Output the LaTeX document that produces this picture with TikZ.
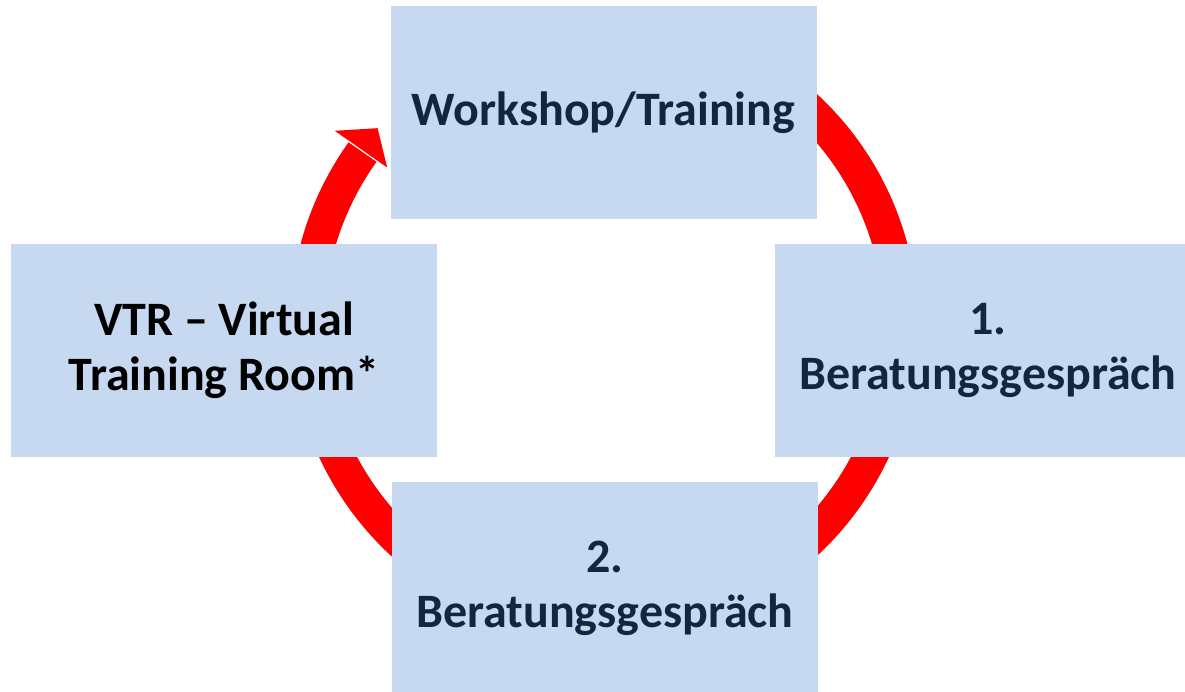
\documentclass[tikz,border=0pt]{standalone}
\usepackage{fontspec}
\setmainfont{Carlito}
\usetikzlibrary{calc}
\definecolor{boxblue}{HTML}{C6D9F1}
\definecolor{navy}{HTML}{12263F}
\definecolor{ringred}{HTML}{FF0000}
\tikzset{
  stepbox/.style={fill=boxblue, draw=none, minimum width=426pt, minimum height=213pt,
    inner sep=0pt, align=center, font=\fontsize{48}{55}\selectfont\bfseries, text=navy},
}
\begin{document}
\begin{tikzpicture}[x=1pt,y=1pt]
\useasboundingbox (0,0) rectangle (1185,691);
\clip (0,0) rectangle (1185,691);
\fill[white] (0,0) rectangle (1185,691);
\coordinate (c) at (604,366);
% ring shadow
\begin{scope}[shift={(1.8pt,-1.8pt)}]
\draw[black!22, line width=34pt] ($(c)+(60:297pt)$) arc[start angle=60, end angle=-215.6, radius=297pt];
\end{scope}
% ring
\draw[ringred, line width=34pt] ($(c)+(60:297pt)$) arc[start angle=60, end angle=-215.6, radius=297pt];
\fill[ringred] ($(c)+(144:268pt)$) -- ($(c)+(144.2:332pt)$) -- ($(c)+(139:300pt)$) -- cycle;
% boxes
\node[stepbox] (top) at (603.5,578.5) {Workshop/Training};
\node[stepbox, text=black] (left) at (224,340.5) {VTR -- Virtual\\Training Room*};
\node[stepbox] (right) at (988,340.5) {1.\\Beratungsgespräch};
\node[stepbox] (bottom) at (605,102.5) {2.\\Beratungsgespräch};
\end{tikzpicture}
\end{document}
